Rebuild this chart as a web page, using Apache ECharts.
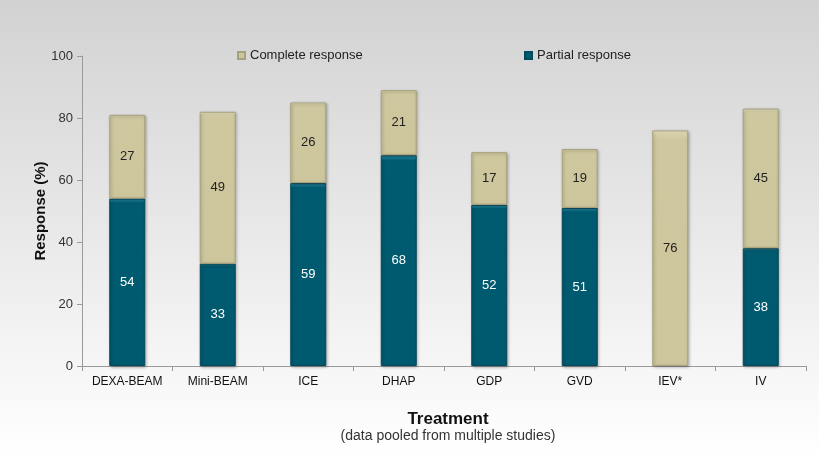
<!DOCTYPE html>
<html><head><meta charset="utf-8">
<script src="https://cdn.jsdelivr.net/npm/echarts@6/dist/echarts.min.js"></script>
<style>html,body{margin:0;padding:0;}#c{width:819px;height:459px;}</style>
</head><body><div id="c"></div>
<script>
const categories = ['DEXA-BEAM','Mini-BEAM','ICE','DHAP','GDP','GVD','IEV*','IV'];
const partialResponse = [54,33,59,68,52,51,0,38];
const completeResponse = [27,49,26,21,17,19,76,45];
const yTicks = {min:0, max:100, interval:20};

const chart = echarts.init(document.getElementById('c'));
const font = '"Liberation Sans", Arial, sans-serif';
chart.setOption({
  backgroundColor: {type:'linear', x:0, y:0, x2:0, y2:1, colorStops:[{offset:0,color:'#d2d2d2'},{offset:1,color:'#ffffff'}]},
  animation:false,
  textStyle:{fontFamily:font},
  legend:[
    {data:['Complete response'], left:232, top:44, itemWidth:7, itemHeight:7, itemGap:3,
     textStyle:{fontSize:13, color:'#222', fontFamily:font}, icon:'rect'},
    {data:['Partial response'], left:519, top:44, itemWidth:7, itemHeight:7, itemGap:3,
     textStyle:{fontSize:13, color:'#222', fontFamily:font}, icon:'rect'}
  ],
  grid:{left:82, right:13, top:56, bottom:93},
  xAxis:{type:'category', data:categories,
    axisLine:{lineStyle:{color:'#9a9a9a'}},
    axisTick:{show:true, alignWithLabel:false, length:5, interval:0, lineStyle:{color:'#9a9a9a'}},
    axisLabel:{fontSize:12, color:'#111', margin:10, interval:0, fontFamily:font}},
  yAxis:{type:'value', min:yTicks.min, max:yTicks.max, interval:yTicks.interval,
    name:'Response (%)', nameLocation:'middle', nameGap:34, nameRotate:90, nameMoveOverlap:false,
    nameTextStyle:{fontSize:15, fontWeight:'bold', color:'#111', fontFamily:font},
    axisLine:{show:true, lineStyle:{color:'#9a9a9a'}},
    axisTick:{show:true, length:5, lineStyle:{color:'#9a9a9a'}},
    splitLine:{show:false},
    axisLabel:{fontSize:13, color:'#333', margin:9, fontFamily:font}},
  series:[
    {name:'Partial response', type:'bar', stack:'r', data:partialResponse.map(v=>v>0?v:'-'), barWidth:36,
     itemStyle:{color:{type:'linear',x:0,y:0,x2:0,y2:1,colorStops:[{offset:0,color:'#2a93ad'},{offset:0.012,color:'#1a7f99'},{offset:0.025,color:'#015b70'},{offset:1,color:'#005a6f'}]},
       borderColor:'#024a5c', borderWidth:1, shadowColor:'rgba(0,0,0,0.3)', shadowBlur:3, shadowOffsetX:1, shadowOffsetY:1},
     label:{show:true, position:'inside', color:'#fff', fontSize:13, fontFamily:font}},
    {name:'Complete response', type:'bar', stack:'r', data:completeResponse, barWidth:36,
     itemStyle:{color:{type:'linear',x:0,y:0,x2:0,y2:1,colorStops:[{offset:0,color:'#f3efcf'},{offset:0.02,color:'#d6d0a8'},{offset:0.04,color:'#cfc89f'},{offset:1,color:'#cdc69c'}]},
       borderColor:'#a8a27c', borderWidth:1, shadowColor:'rgba(0,0,0,0.3)', shadowBlur:3, shadowOffsetX:1, shadowOffsetY:1},
     label:{show:true, position:'inside', color:'#222', fontSize:13, fontFamily:font}}
  ],
  graphic:[
    {type:'text', x:448, y:411, style:{text:'Treatment', font:'bold 17px "Liberation Sans", Arial, sans-serif', fill:'#111', textAlign:'center', textVerticalAlign:'top'}},
    {type:'text', x:448, y:429, style:{text:'(data pooled from multiple studies)', font:'14px "Liberation Sans", Arial, sans-serif', fill:'#333', textAlign:'center', textVerticalAlign:'top'}}
  ]
});
</script></body></html>
